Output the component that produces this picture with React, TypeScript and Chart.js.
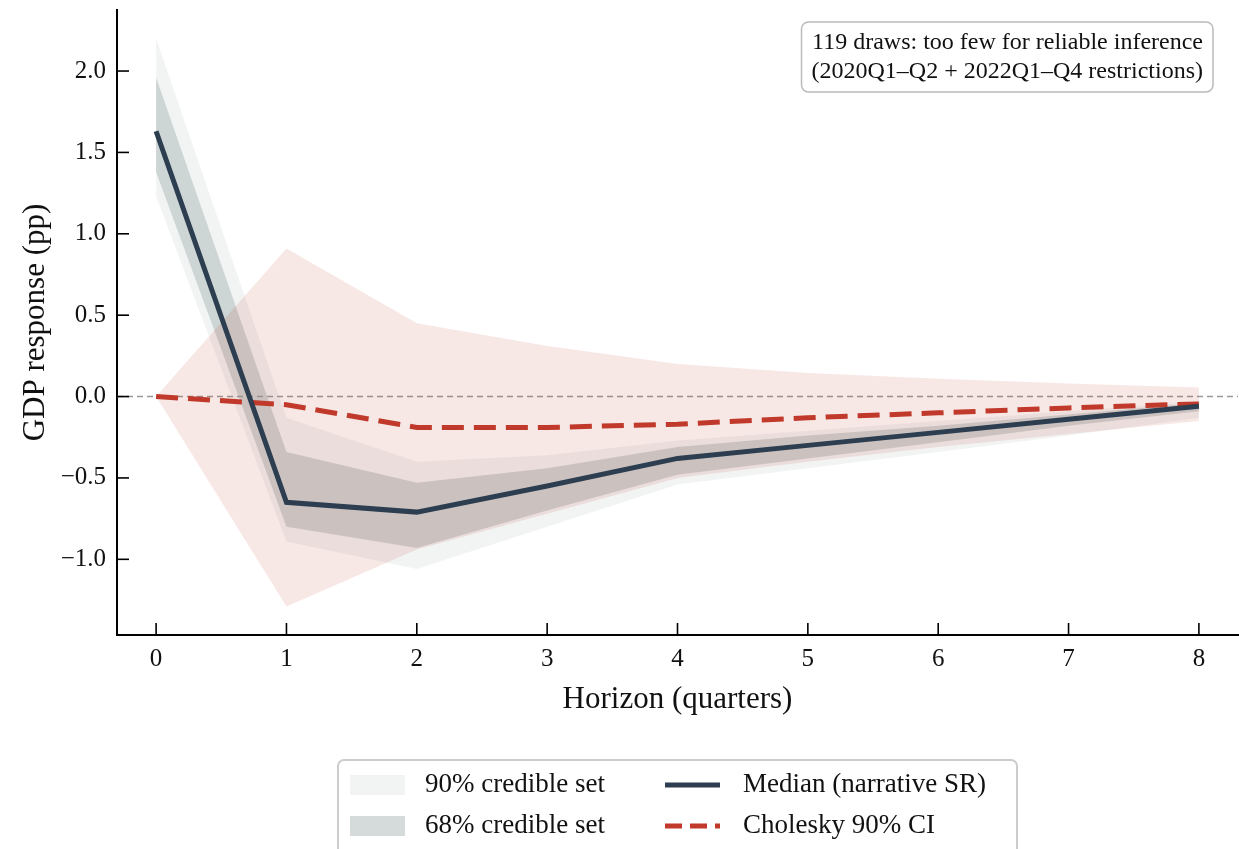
import React, { useEffect, useRef } from "react";
import { Chart, registerables } from "chart.js";

Chart.register(...registerables);

const horizons = [0, 1, 2, 3, 4, 5, 6, 7, 8];
const srMedian = [1.63, -0.65, -0.71, -0.55, -0.38, -0.3, -0.22, -0.14, -0.06];
const sr90Upper = [2.2, -0.13, -0.4, -0.36, -0.27, -0.21, -0.15, -0.09, -0.03];
const sr90Lower = [1.23, -0.89, -1.06, -0.8, -0.54, -0.44, -0.34, -0.24, -0.13];
const sr68Upper = [1.96, -0.34, -0.53, -0.44, -0.31, -0.24, -0.18, -0.11, -0.04];
const sr68Lower = [1.38, -0.8, -0.93, -0.7, -0.48, -0.38, -0.28, -0.18, -0.09];
const cholMedian = [0, -0.05, -0.19, -0.19, -0.17, -0.13, -0.1, -0.07, -0.045];
const cholUpper = [0, 0.91, 0.45, 0.31, 0.2, 0.145, 0.11, 0.08, 0.055];
const cholLower = [0, -1.29, -0.94, -0.72, -0.5, -0.4, -0.31, -0.23, -0.15];

const xTickValues = [0, 1, 2, 3, 4, 5, 6, 7, 8];
const yTickValues = [-1.0, -0.5, 0.0, 0.5, 1.0, 1.5, 2.0];

const xTitle = "Horizon (quarters)";
const yTitle = "GDP response (pp)";
const noteLines = [
  "119 draws: too few for reliable inference",
  "(2020Q1\u2013Q2 + 2022Q1\u2013Q4 restrictions)",
];
const legendLabels = [
  "90% credible set",
  "68% credible set",
  "Median (narrative SR)",
  "Cholesky 90% CI",
];

const FONT = "'Liberation Serif', 'Times New Roman', serif";
const NAVY = "#2c3e50";
const RED = "#c0392b";
const GRAY90 = "rgba(149,165,166,0.12)";
const GRAY68 = "rgba(149,165,166,0.40)";
const PINK = "rgba(192,57,43,0.12)";

const pts = (ys: number[]) => horizons.map((x, i) => ({ x, y: ys[i] }));

const fmtY = (v: number) =>
  v < 0 ? "\u2212" + Math.abs(v).toFixed(1) : v.toFixed(1);

const customPlugin = {
  id: "customDecor",
  beforeDatasetsDraw(chart: any) {
    const { ctx, chartArea } = chart;
    const y0 = chart.scales.y.getPixelForValue(0);
    ctx.save();
    ctx.strokeStyle = "#999999";
    ctx.lineWidth = 1.5;
    ctx.setLineDash([6, 4]);
    ctx.beginPath();
    ctx.moveTo(chartArea.left, y0);
    ctx.lineTo(chartArea.right, y0);
    ctx.stroke();
    ctx.restore();
  },
  afterDraw(chart: any) {
    const { ctx, chartArea } = chart;
    const xs = chart.scales.x;
    const ys = chart.scales.y;
    ctx.save();
    // inward ticks
    ctx.strokeStyle = "#000";
    ctx.lineWidth = 1.6;
    ctx.setLineDash([]);
    for (const v of xTickValues) {
      const px = xs.getPixelForValue(v);
      ctx.beginPath();
      ctx.moveTo(px, chartArea.bottom);
      ctx.lineTo(px, chartArea.bottom - 12);
      ctx.stroke();
    }
    for (const v of yTickValues) {
      const py = ys.getPixelForValue(v);
      ctx.beginPath();
      ctx.moveTo(chartArea.left, py);
      ctx.lineTo(chartArea.left + 12, py);
      ctx.stroke();
    }

    // annotation box
    ctx.font = `24px ${FONT}`;
    const tw = Math.max(...noteLines.map((l) => ctx.measureText(l).width));
    const pad = 10;
    const bRight = chartArea.right - 25;
    const bTop = chartArea.top + 12;
    const bW = tw + pad * 2;
    const bH = 70;
    ctx.beginPath();
    ctx.roundRect(bRight - bW, bTop, bW, bH, 7);
    ctx.fillStyle = "rgba(255,255,255,0.9)";
    ctx.fill();
    ctx.strokeStyle = "#bbbbbb";
    ctx.lineWidth = 1.5;
    ctx.stroke();
    ctx.fillStyle = "#111";
    ctx.textAlign = "right";
    ctx.textBaseline = "middle";
    noteLines.forEach((l, i) => {
      ctx.fillText(l, bRight - pad, bTop + 21 + i * 29);
    });

    // legend
    const cx = (chartArea.left + chartArea.right) / 2;
    const lW = 679;
    const lL = cx - lW / 2;
    const lT = chartArea.bottom + 125;
    ctx.beginPath();
    ctx.roundRect(lL, lT, lW, 120, 6);
    ctx.fillStyle = "rgba(255,255,255,0.9)";
    ctx.fill();
    ctx.strokeStyle = "#cccccc";
    ctx.lineWidth = 2;
    ctx.stroke();
    const rows = [lT + 25, lT + 66];
    ctx.font = `27px ${FONT}`;
    ctx.textAlign = "left";
    ctx.textBaseline = "middle";
    ctx.fillStyle = GRAY90;
    ctx.fillRect(lL + 12, rows[0] - 10, 55, 20);
    ctx.fillStyle = GRAY68;
    ctx.fillRect(lL + 12, rows[1] - 10, 55, 20);
    ctx.fillStyle = "#111";
    ctx.fillText(legendLabels[0], lL + 87, rows[0]);
    ctx.fillText(legendLabels[1], lL + 87, rows[1]);
    ctx.lineWidth = 5;
    ctx.strokeStyle = NAVY;
    ctx.beginPath();
    ctx.moveTo(lL + 327, rows[0]);
    ctx.lineTo(lL + 382, rows[0]);
    ctx.stroke();
    ctx.strokeStyle = RED;
    ctx.setLineDash([17, 8]);
    ctx.beginPath();
    ctx.moveTo(lL + 327, rows[1]);
    ctx.lineTo(lL + 382, rows[1]);
    ctx.stroke();
    ctx.setLineDash([]);
    ctx.fillStyle = "#111";
    ctx.fillText(legendLabels[2], lL + 405, rows[0]);
    ctx.fillText(legendLabels[3], lL + 405, rows[1]);
    ctx.restore();
  },
};

export default function App() {
  const ref = useRef<HTMLCanvasElement | null>(null);
  useEffect(() => {
    if (!ref.current) return;
    const band = { pointRadius: 0, borderWidth: 0, tension: 0 };
    const chart = new Chart(ref.current, {
      type: "line",
      data: {
        datasets: [
          { ...band, label: "sr90u", data: pts(sr90Upper), backgroundColor: GRAY90, fill: "+1", order: 6 },
          { ...band, label: "sr90l", data: pts(sr90Lower), fill: false, order: 7 },
          { ...band, label: "sr68u", data: pts(sr68Upper), backgroundColor: GRAY68, fill: "+1", order: 4 },
          { ...band, label: "sr68l", data: pts(sr68Lower), fill: false, order: 5 },
          { ...band, label: "cholu", data: pts(cholUpper), backgroundColor: PINK, fill: "+1", order: 2 },
          { ...band, label: "choll", data: pts(cholLower), fill: false, order: 3 },
          {
            label: legendLabels[2],
            data: pts(srMedian),
            borderColor: NAVY,
            borderWidth: 5,
            pointRadius: 0,
            fill: false,
            order: 0,
          },
          {
            label: legendLabels[3],
            data: pts(cholMedian),
            borderColor: RED,
            borderWidth: 5,
            borderDash: [22, 10],
            pointRadius: 0,
            fill: false,
            order: 1,
          },
        ],
      },
      options: {
        animation: false,
        responsive: true,
        maintainAspectRatio: false,
        layout: { padding: { left: 0, top: 10, right: 1, bottom: 124 } },
        plugins: {
          legend: { display: false },
          tooltip: { enabled: false },
        },
        scales: {
          x: {
            type: "linear",
            min: -0.3,
            max: 8.3,
            afterBuildTicks: (s: any) => {
              s.ticks = xTickValues.map((v) => ({ value: v }));
            },
            afterFit: (s: any) => {
              s.height = 90;
              s.paddingLeft = 0;
              s.paddingRight = 0;
            },
            grid: { display: false, drawTicks: false },
            border: { display: true, color: "#000", width: 2 },
            ticks: {
              color: "#111",
              font: { family: FONT, size: 25 },
              padding: 9,
              maxRotation: 0,
              autoSkip: false,
              callback: (v: any) => String(v),
            },
            title: {
              display: true,
              text: xTitle,
              color: "#111",
              font: { family: FONT, size: 31 },
              padding: { top: 0, bottom: 7 },
            },
          },
          y: {
            type: "linear",
            min: -1.465,
            max: 2.375,
            afterBuildTicks: (s: any) => {
              s.ticks = yTickValues.map((v) => ({ value: v }));
            },
            afterFit: (s: any) => {
              s.width = 117;
              s.paddingTop = 0;
              s.paddingBottom = 0;
            },
            grid: { display: false, drawTicks: false },
            border: { display: true, color: "#000", width: 2 },
            ticks: {
              color: "#111",
              font: { family: FONT, size: 25 },
              padding: 11,
              callback: (v: any) => fmtY(Number(v)),
            },
            title: {
              display: true,
              text: yTitle,
              color: "#111",
              font: { family: FONT, size: 31 },
              padding: { top: 17, bottom: 0 },
            },
          },
        },
      },
      plugins: [customPlugin],
    });
    return () => chart.destroy();
  }, []);

  return (
    <div
      style={{
        position: "absolute",
        left: 0,
        top: 0,
        width: 1239,
        height: 849,
        background: "#fff",
        overflow: "hidden",
      }}
    >
      <canvas ref={ref} />
    </div>
  );
}
